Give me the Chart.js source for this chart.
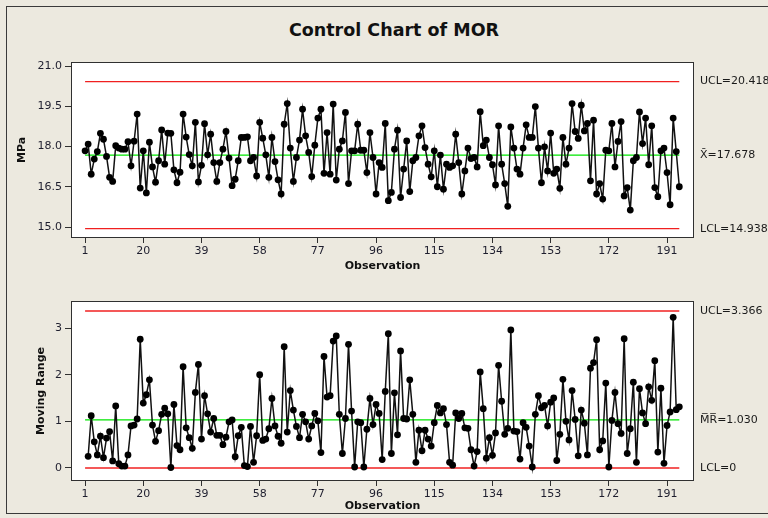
<!DOCTYPE html>
<html><head><meta charset="utf-8">
<script src="https://cdn.jsdelivr.net/npm/chart.js@4"></script>
<style>
html,body{margin:0;padding:0;background:#ECE9DF;}
#wrap{position:relative;width:768px;height:518px;overflow:hidden;background:#ECE9DF;}
#frame{position:absolute;left:6px;top:6px;width:800px;height:506px;border:1px solid #3a3a3a;}
#title{position:absolute;left:0;width:788px;top:20px;text-align:center;font:bold 17.5px "DejaVu Sans";color:#111;}
canvas{position:absolute;left:0;top:0;}
</style></head>
<body>
<div id="wrap">
<div id="frame"></div>
<div id="title">Control Chart of MOR</div>
<canvas id="cI" width="768" height="518"></canvas>
<canvas id="cMR" width="768" height="518"></canvas>
</div>
<script>
const mpa = [
17.84,18.09,16.97,17.53,17.81,18.49,18.27,17.63,16.85,16.70,
18.03,17.94,17.90,17.90,18.18,17.28,18.20,19.21,16.45,17.84,
16.27,18.16,17.24,16.67,17.47,18.62,17.34,18.50,18.49,17.13,
16.65,17.04,19.21,18.35,17.70,17.28,18.90,16.68,17.30,18.85,
17.69,18.46,17.40,16.70,17.40,17.90,18.56,17.57,16.54,16.78,
17.47,18.34,18.34,18.36,17.47,17.59,16.90,18.90,18.31,17.69,
16.85,18.34,17.44,16.76,16.23,18.83,19.60,17.94,16.70,17.59,
18.24,19.39,18.40,17.78,16.88,18.05,19.06,19.39,17.00,18.52,
16.97,19.58,16.75,17.90,18.21,19.27,16.62,17.84,17.84,18.83,
17.86,17.86,17.03,18.52,17.59,16.23,17.40,17.22,18.86,15.98,
16.29,17.90,18.61,16.10,17.16,18.21,16.32,17.47,17.59,18.40,
18.77,17.96,17.34,16.87,17.84,16.50,17.68,16.41,17.34,17.22,
17.28,18.46,17.40,16.23,17.09,17.94,17.55,17.59,17.24,19.30,
18.03,18.24,17.59,17.32,16.57,18.77,17.34,16.62,15.77,18.73,
17.94,17.16,16.97,17.94,18.81,18.34,18.34,19.49,17.94,16.65,
17.99,17.09,18.50,17.00,17.16,16.44,18.34,17.34,17.94,19.60,
18.56,18.30,19.54,18.58,18.86,16.72,18.98,16.23,16.62,16.04,
17.86,17.84,18.86,17.24,18.19,18.93,16.16,16.47,15.63,17.47,
17.59,19.29,18.11,19.06,17.32,18.77,16.47,16.13,17.84,17.94,
17.03,15.83,19.06,17.81,16.50
];
// moving ranges, observations 2..195
const movingRange = [
0.25,1.12,0.56,0.28,0.68,0.22,0.64,0.78,0.15,1.33,
0.09,0.04,0.04,0.28,0.90,0.92,1.05,2.76,1.39,1.57,
1.89,0.92,0.57,0.80,1.15,1.28,1.16,0.01,1.36,0.48,
0.39,2.17,0.86,0.65,0.42,1.62,2.22,0.62,1.55,1.16,
0.77,1.06,0.70,0.70,0.50,0.66,0.99,1.03,0.24,0.69,
0.87,0.05,0.03,0.89,0.12,0.69,2.00,0.59,0.62,0.84,
1.49,0.90,0.68,0.53,2.60,0.77,1.66,1.24,0.89,0.65,
1.15,0.99,0.62,0.90,1.17,1.01,0.33,2.39,1.52,1.55,
2.72,2.83,1.15,0.31,1.06,2.65,1.22,0.02,0.99,0.97,
0.02,0.83,1.49,0.93,1.36,1.17,0.18,1.64,2.88,0.31,
1.61,0.71,2.51,1.06,1.05,1.89,1.15,0.12,0.81,0.37,
0.81,0.62,0.47,0.97,1.34,1.18,1.27,0.93,0.12,0.06,
1.18,1.06,1.17,0.86,0.85,0.39,0.04,0.35,2.06,1.27,
0.21,0.65,0.27,0.75,2.20,1.43,0.72,0.85,2.96,0.79,
0.78,0.19,0.97,0.87,0.47,0.02,1.15,1.55,1.29,1.34,
0.90,1.41,1.50,0.16,0.72,1.90,1.00,0.60,1.66,1.04,
0.26,1.24,0.96,0.28,2.14,2.26,2.75,0.39,0.58,1.82,
0.02,1.02,1.62,0.95,0.74,2.77,0.31,0.84,1.84,0.12,
1.70,1.18,0.95,1.74,1.45,2.30,0.34,1.71,0.10,0.91,
1.20,3.23,1.25,1.31
];
const xTickValues = [1,20,39,58,77,96,115,134,153,172,191];
const iTickValues = [15.0,16.5,18.0,19.5,21.0];
const mrTickValues = [0,1,2,3];
const iLimits = {ucl:20.418, center:17.678, lcl:14.938};
const mrLimits = {ucl:3.366, center:1.030, lcl:0};
const iLabels = ['UCL=20.418','X\u0304=17.678','LCL=14.938'];
const mrLabels = ['UCL=3.366','M\u0305R\u0305=1.030','LCL=0'];
const firstObs = 1, lastObs = mpa.length;

const FONT = 'DejaVu Sans';
const RED = '#F02020', GREEN = '#00E600';

const plotDeco = {
  id:'plotDeco',
  beforeDraw(chart){
    const {ctx, chartArea:a} = chart;
    ctx.save(); ctx.fillStyle='#ffffff';
    ctx.fillRect(a.left,a.top,a.right-a.left,a.bottom-a.top); ctx.restore();
  },
  afterDraw(chart, args, opts){
    const {ctx, chartArea:a} = chart;
    ctx.save();
    ctx.strokeStyle='#303030'; ctx.lineWidth=1;
    ctx.strokeRect(Math.round(a.left)+0.5, Math.round(a.top)+0.5, Math.round(a.right-a.left)-1, Math.round(a.bottom-a.top)-1);
    ctx.fillStyle='#1a1a1a'; ctx.font='11px "'+FONT+'"'; ctx.textBaseline='middle'; ctx.textAlign='left';
    (opts.items||[]).forEach(it=>{
      const y = chart.scales.y.getPixelForValue(it.value);
      ctx.fillText(it.text, 700, y);
    });
    ctx.restore();
  }
};

function limitSet(v,color){
  return {type:'line', data:[{x:firstObs,y:v},{x:lastObs,y:v}], borderColor:color, borderWidth:1.4, pointRadius:0, fill:false, order:2};
}

function makeChart(id, values, startObs, limits, yMin, yMax, yTicks, fmt, yTitle, yTitlePad, padTop, padBottom, xAxisH, xTitlePad, labels){
  const pts = values.map((v,i)=>({x:i+startObs, y:v}));
  return new Chart(document.getElementById(id), {
    type:'line',
    data:{datasets:[
      {data:pts, borderColor:'#111', borderWidth:1.5, backgroundColor:'#000', pointBackgroundColor:'#000', pointBorderWidth:0, pointRadius:3.4, fill:false, tension:0, order:1},
      limitSet(limits.ucl, RED), limitSet(limits.center, GREEN), limitSet(limits.lcl, RED)
    ]},
    options:{
      responsive:false, animation:false, devicePixelRatio:1,
      layout:{padding:{top:padTop, left:0, right:74, bottom:padBottom}},
      plugins:{legend:{display:false}, tooltip:{enabled:false}, plotDeco:{items:labels}},
      scales:{
        x:{type:'linear', min:-3.6, max:199.8,
          afterBuildTicks:s=>{ s.ticks = xTickValues.map(v=>({value:v})); },
          afterFit:s=>{ s.height = xAxisH; },
          ticks:{autoSkip:false, maxRotation:0, padding:2, color:'#1e1e2e', font:{family:FONT,size:11}, callback:v=>String(v)},
          grid:{drawOnChartArea:false, tickLength:5, color:'#303030'},
          border:{display:false},
          title:{display:true, text:'Observation', color:'#111', font:{family:FONT,size:11,weight:'bold'}, padding:{top:0,bottom:xTitlePad}}
        },
        y:{type:'linear', min:yMin, max:yMax,
          afterBuildTicks:s=>{ s.ticks = yTicks.map(v=>({value:v})); },
          afterFit:s=>{ s.width = 71; },
          ticks:{autoSkip:false, padding:3, color:'#1e1e2e', font:{family:FONT,size:11}, callback:fmt},
          grid:{drawOnChartArea:false, tickLength:6, color:'#303030'},
          border:{display:false},
          title:{display:true, text:yTitle, color:'#111', font:{family:FONT,size:11,weight:'bold'}, padding:{top:yTitlePad,bottom:0}}
        }
      }
    },
    plugins:[plotDeco]
  });
}

makeChart('cI', mpa, 1, iLimits, 14.59, 21.15, iTickValues, v=>Number(v).toFixed(1), 'MPa', 16, 62, 238, 42, 7,
  [{text:iLabels[0],value:iLimits.ucl},{text:iLabels[1],value:iLimits.center},{text:iLabels[2],value:iLimits.lcl}]);
makeChart('cMR', movingRange, 2, mrLimits, -0.28, 3.58, mrTickValues, v=>String(v), 'Moving Range', 35, 301, 0, 37, 5,
  [{text:mrLabels[0],value:mrLimits.ucl},{text:mrLabels[1],value:mrLimits.center},{text:mrLabels[2],value:mrLimits.lcl}]);
</script>
</body></html>
